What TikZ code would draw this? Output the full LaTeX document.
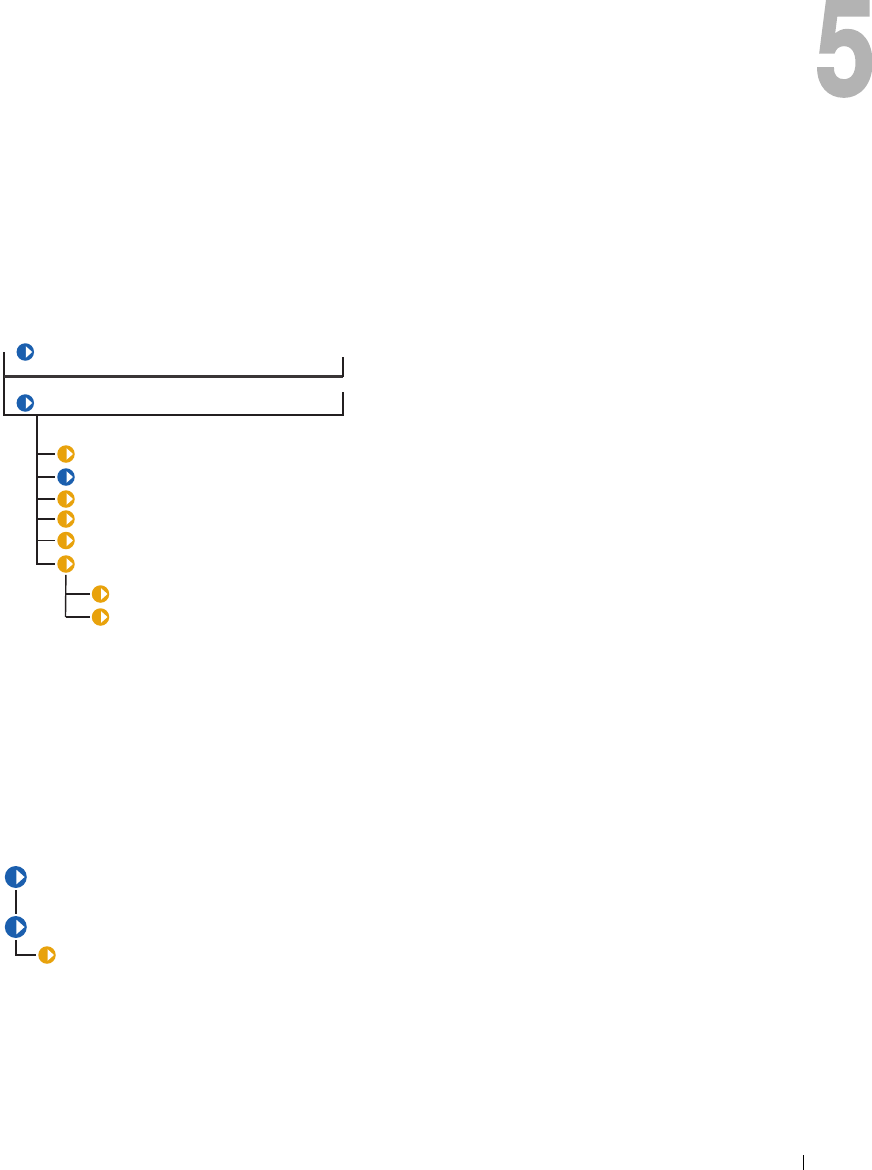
\documentclass[tikz,border=0pt]{standalone}
\usepackage{fontspec}
\setmainfont{TeX Gyre Heros}
\newfontfamily\numfont[FakeBold=1.6]{TeX Gyre Heros Bold}
\definecolor{iblue}{HTML}{1B5FAE}
\definecolor{iorange}{HTML}{E8A20C}
\definecolor{lineblk}{HTML}{231F20}
\definecolor{numgray}{HTML}{B3B3B3}
\tikzset{
  icon/.style={circle,inner sep=0pt,outer sep=2pt,minimum size=#1,
    path picture={\fill[white]
      ([xshift=0.03*#1,yshift=0.33*#1]path picture bounding box.center) --
      ([xshift=0.40*#1]path picture bounding box.center) --
      ([xshift=0.03*#1,yshift=-0.33*#1]path picture bounding box.center) -- cycle;}},
  blueicon/.style={icon=#1,fill=iblue},
  orangeicon/.style={icon=#1,fill=iorange},
  conn/.style={draw=lineblk,line width=2pt},
  thinconn/.style={draw=lineblk,line width=0.9pt},
  rulegray/.style={draw=lineblk!90!white,line width=2.2pt},
}
\begin{document}
\begin{tikzpicture}[x=1pt,y=-1pt]
\useasboundingbox (0,0) rectangle (872,1170);
\begin{scope}
\clip (0,0) rectangle (872,1170);
\node[anchor=base,inner sep=0pt,text=numgray,font=\numfont\fontsize{137}{137}\selectfont,transform shape,xscale=0.8,yscale=1.0] (chapnum) at (845.5,95.5) {5};
\end{scope}

% upper tree icons
\node[blueicon=17.5pt] (a1) at (25.3,352) {};
\node[blueicon=17.5pt] (a2) at (25.3,403) {};
\node[orangeicon=17.5pt] (b1) at (66,454) {};
\node[blueicon=17.5pt] (b2) at (66,477) {};
\node[orangeicon=17.5pt] (b3) at (66,499) {};
\node[orangeicon=17.5pt] (b4) at (66,519) {};
\node[orangeicon=17.5pt] (b5) at (66,540.5) {};
\node[orangeicon=17.5pt] (b6) at (66,564) {};
\node[orangeicon=17.5pt] (c1) at (100.5,594) {};
\node[orangeicon=17.5pt] (c2) at (100.5,617) {};

% frame
\coordinate (ftop) at (4,352);
\coordinate (fmid) at (4,376.5);
\coordinate (fbot) at (4,415);
\coordinate (rmidtop) at (343,357);
\coordinate (rmid) at (343,376.5);
\coordinate (rbottop) at (343,393);
\coordinate (rbot) at (343,415);
\draw[draw=lineblk,line width=1.4pt] (ftop) -- (fbot);
\draw[rulegray] (fmid) -- (rmid);
\draw[conn] (rmidtop) -- (rmid);
\draw[conn,line cap=rect] (fbot) -- (rbot) -- (rbottop);

% trunk
\coordinate (t0) at (37,415);
\coordinate (t1) at (37,454);
\coordinate (t2) at (37,477);
\coordinate (t3) at (37,499);
\coordinate (t4) at (37,519);
\coordinate (t5) at (37,540.5);
\coordinate (t6) at (37,564);
\draw[conn,line cap=rect] (t0) -- (t6);
\draw[conn] (t1) -- (b1);
\draw[conn] (t2) -- (b2);
\draw[conn] (t3) -- (b3);
\draw[conn] (t4) -- (b4);
\draw[thinconn] (t5) -- (b5);
\draw[conn] (t6) -- (b6);

% sub-branch
\coordinate (s1) at (65.5,594);
\coordinate (s2) at (65.5,617);
\draw[draw=lineblk,line width=1.4pt] (b6) -- (s2);
\draw[conn] (s1) -- (c1);
\draw[conn] (s2) -- (c2);

% lower tree
\node[blueicon=22pt] (d1) at (15.8,877) {};
\node[blueicon=22pt] (d2) at (15.8,927) {};
\node[orangeicon=17.5pt] (e1) at (47,955) {};
\coordinate (dk) at (15.8,955);
\draw[conn] (d1) -- (d2);
\draw[conn] (d2) -- (dk) -- (e1);

% page tick
\coordinate (p1) at (803.5,1155);
\coordinate (p2) at (803.5,1170);
\draw[draw=black,line width=0.8pt] (p1) -- (p2);
\end{tikzpicture}
\end{document}
